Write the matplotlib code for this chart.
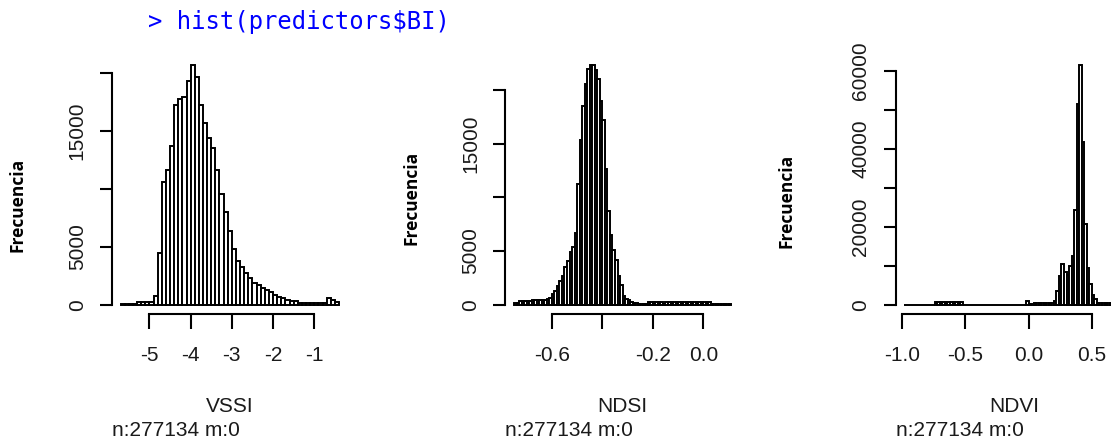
import numpy as np
import matplotlib.pyplot as plt

# VSSI histogram (bin width 0.1 starting at -5.7)
vssi_start, vssi_step = -5.7, 0.1
vssi_counts = [40, 40, 40, 40, 200, 200, 200, 200, 710,
               4430, 10580, 11580, 13640, 17220, 17710, 17930, 19280, 20650, 19650,
               17220, 15700, 14360, 13500, 11580, 9580, 7950, 6340, 4770, 3770,
               3290, 2710, 2260, 1830, 1680, 1450, 1280, 1060, 880, 680,
               570, 420, 340, 280,
               120, 120, 120, 120, 120, 120, 120,
               570, 420, 200]

# NDSI histogram (bin width 0.01 starting at -0.75)
ndsi_start, ndsi_step = -0.75, 0.01
ndsi_counts = [120, 120, 300, 300, 300, 300, 300, 430, 430, 430, 430, 430,
               470, 520, 600,
               990, 1290, 1750, 2200, 2700, 3470, 4100, 4900, 5400, 6700,
               11200, 15300, 18500, 20500, 21900, 22300, 22300, 21800, 21000, 19000,
               17200, 12600, 8700, 6500, 5100, 4200, 2700, 1800, 830, 520, 430, 250, 200, 200,
               30, 30, 30, 30, 250, 250, 250, 250, 250, 250, 30,
               250, 250, 250, 250, 250, 250, 250, 250, 250, 250, 250, 250, 250, 250, 250, 250, 250, 250,
               30, 30, 30, 30, 30, 30, 30, 30]

# NDVI histogram (bin width 0.02 starting at -0.98)
ndvi_start, ndvi_step = -0.98, 0.02
ndvi_counts = ([40] * 12 + [700] * 11 + [40] * 25 + [900, 80, 80] + [550] * 8 +
               [1000, 3400, 7400, 10400, 8500, 7600, 9900, 12500, 24400, 51400, 61500,
                41700, 20800, 9500, 5400, 2500, 1400] + [500] * 11)

panels = [
    ("VSSI", vssi_start, vssi_step, vssi_counts,
     [-5, -4, -3, -2, -1], ["-5", "-4", "-3", "-2", "-1"],
     [0, 5000, 10000, 15000, 20000], ["0", "5000", "", "15000", ""]),
    ("NDSI", ndsi_start, ndsi_step, ndsi_counts,
     [-0.6, -0.4, -0.2, 0.0], ["-0.6", "", "-0.2", "0.0"],
     [0, 5000, 10000, 15000, 20000], ["0", "5000", "", "15000", ""]),
    ("NDVI", ndvi_start, ndvi_step, ndvi_counts,
     [-1.0, -0.5, 0.0, 0.5], ["-1.0", "-0.5", "0.0", "0.5"],
     [0, 10000, 20000, 30000, 40000, 50000, 60000], ["0", "", "20000", "", "40000", "", "60000"]),
]
n_obs, n_missing = 277134, 0

W, H = 1111, 438
plt.rcParams['font.family'] = ['Liberation Sans', 'DejaVu Sans']
fig = plt.figure(figsize=(W / 100, H / 100), dpi=100)
fig.patch.set_facecolor('white')

top, bottom = 55.5, 314.3
boxes = [(111.8, 236.0), (505.3, 234.5), (895.6, 238.0)]
ylab_pos = [(17.5, 205), (411.7, 197.5), (786.7, 201)]
txt_col = '#1a1a1a'

for (name, start, step, counts, xt, xtl, yt, ytl), (left, width), (lx, ly) in zip(panels, boxes, ylab_pos):
    ax = fig.add_axes([left / W, 1 - bottom / H, width / W, (bottom - top) / H])
    counts = np.array(counts, dtype=float)
    edges = start + step * np.arange(len(counts) + 1)
    ax.bar(edges[:-1], counts, width=step, align='edge', facecolor='white',
           edgecolor='black', linewidth=1.4)
    lo, hi = edges[0], edges[-1]
    pad = 0.04 * (hi - lo)
    ax.set_xlim(lo - pad, hi + pad)
    ax.set_ylim(-0.04 * counts.max(), 1.04 * counts.max())

    for s in ['top', 'right']:
        ax.spines[s].set_visible(False)
    for s in ['left', 'bottom']:
        ax.spines[s].set_linewidth(1.5)
    ax.spines['bottom'].set_bounds(xt[0], xt[-1])
    ax.spines['left'].set_bounds(yt[0], yt[-1])

    ax.set_xticks(xt)
    ax.set_xticklabels(xtl)
    ax.set_yticks(yt)
    ax.set_yticklabels(ytl, rotation=90, va='center')
    ax.tick_params(axis='x', length=10.8, width=1.5, pad=12.0, labelsize=15)
    ax.tick_params(axis='y', length=8.6, width=1.5, pad=9.5, labelsize=15)
    ax.tick_params(colors='black', labelcolor=txt_col)

    ax.set_xlabel(name, fontsize=15, color=txt_col)
    ax.xaxis.set_label_coords(0.5, -0.318)
    ax.annotate("n:%d m:%d" % (n_obs, n_missing), xy=(0, 0), xycoords='axes fraction',
                xytext=(0, -(435.7 - bottom) * 0.72), textcoords='offset points',
                ha='left', va='baseline', fontsize=15, color=txt_col)

    fig.text(lx / W, 1 - ly / H, "Frecuencia", rotation=90, ha='center', va='center',
             fontsize=12.5, fontweight='bold', family=['Open Sans', 'DejaVu Sans'], color='black')

fig.text(148 / W, 1 - 29 / H, "> hist(predictors$BI)", color='#0000ff', fontsize=17.2,
         family='DejaVu Sans Mono', va='baseline', ha='left', parse_math=False)

fig.savefig('out.png', dpi=100, facecolor='white')
